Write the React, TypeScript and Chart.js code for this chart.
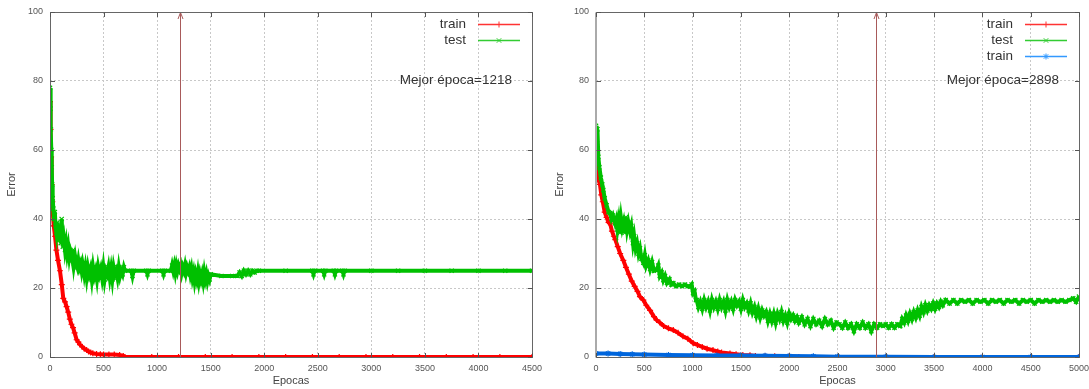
import React, { useEffect, useRef } from "react";
import { Chart, registerables } from "chart.js";

Chart.register(...registerables);

const FONT = "'Liberation Sans', Arial, sans-serif";

// ---------- shared tick labels ----------
const yTicks = [0, 20, 40, 60, 80, 100];
const leftXTicks = [0, 500, 1000, 1500, 2000, 2500, 3000, 3500, 4000, 4500];
const rightXTicks = [0, 500, 1000, 1500, 2000, 2500, 3000, 3500, 4000, 4500, 5000];

const xTitle = "Epocas";
const yTitle = "Error";
const bestLabelPrefix = "Mejor época=";

// ---------- left panel data: [epoch, error] ----------
const leftBestEpoch = 1218;

const leftTrain: [number, number][] = [
  [0, 74], [5, 66], [10, 58], [16, 50], [22, 45], [28, 41], [35, 38], [47, 35], [60, 31], [75, 28],
  [93, 25], [110, 21], [124, 17], [140, 16], [155, 14.6], [170, 13], [185, 11], [200, 9.5], [215, 8.5],
  [230, 7], [249, 5], [265, 4.3], [280, 3.6], [300, 3], [320, 2.4], [342, 2], [360, 1.6], [380, 1.3],
  [400, 1.1], [435, 0.9], [470, 0.8], [500, 0.7], [550, 0.75], [600, 0.7], [650, 0.6], [684, 0.3],
  [700, 0], [950, 0], [1200, 0], [1450, 0], [1700, 0], [1950, 0], [2200, 0], [2450, 0], [2700, 0],
  [2950, 0], [3200, 0], [3450, 0], [3700, 0], [3950, 0], [4200, 0], [4500, 0],
];

const leftTest: [number, number][] = [
  [0, 78], [4, 72], [8, 66], [12, 60], [16, 55], [20, 50], [25, 46], [31, 43], [38, 40], [45, 42],
  [52, 38], [60, 36], [68, 39], [76, 35], [85, 34], [93, 36], [100, 33], [109, 40], [120, 32], [130, 34],
  [140, 31], [150, 33], [160, 30], [170, 32], [180, 29], [190, 31], [200, 30], [210, 28], [217, 31], [225, 27],
  [235, 29], [245, 27], [255, 26], [265, 28], [275, 26], [285, 27], [295, 25], [305, 27], [311, 26], [320, 24],
  [330, 26], [342, 23], [354, 26], [366, 24], [378, 25.5], [390, 22.5], [402, 26], [414, 23.5], [426, 25],
  [438, 22.5], [450, 26], [462, 24], [474, 25.5], [486, 23], [498, 26], [510, 22.5], [522, 25], [534, 24],
  [546, 26], [558, 23], [570, 25.5], [582, 22.5], [594, 26], [606, 24], [618, 25], [630, 23], [642, 26],
  [654, 23.5], [666, 25], [678, 24], [690, 26], [700, 25],
  [760, 25], [770, 23.5], [780, 25], [900, 25], [910, 24], [920, 25], [1050, 25], [1060, 24], [1070, 25], [1130, 25],
  [1140, 26.5], [1150, 25], [1160, 26.5], [1170, 24.5], [1180, 26.5], [1190, 25], [1200, 26.5], [1210, 25.5],
  [1220, 26.5], [1230, 24.5], [1240, 26], [1250, 25], [1260, 26.5], [1270, 24.5], [1280, 26], [1290, 25], [1300, 26],
  [1310, 24], [1320, 25.5], [1330, 23], [1340, 24.5], [1350, 22],
  [1360, 24], [1370, 22.5], [1380, 24.5], [1390, 22], [1400, 24], [1410, 22.5], [1420, 24], [1430, 22],
  [1440, 24.5], [1450, 22.5], [1460, 24], [1470, 22], [1480, 23.5], [1490, 22.5], [1500, 24],
  [1600, 23.5], [1700, 23.5], [1750, 23.5],
  [1770, 24.5], [1790, 23.5], [1810, 25], [1830, 24], [1850, 25], [1870, 24], [1890, 25], [1910, 24.5], [1930, 25], [1950, 25],
  [2200, 25], [2450, 25], [2460, 24], [2470, 25], [2550, 25], [2560, 24], [2570, 25], [2650, 25], [2660, 24], [2670, 25],
  [2730, 25], [2740, 24], [2750, 25], [3000, 25], [3250, 25], [3500, 25], [3750, 25], [4000, 25], [4250, 25], [4500, 25],
];

// ---------- right panel data: [epoch, error] ----------
const rightBestEpoch = 2898;

const rightTrain: [number, number][] = [
  [0, 62.5], [5, 58], [10, 56], [20, 53], [30, 51], [41, 50], [55, 47], [70, 45], [90, 42], [110, 40.5],
  [130, 39], [145, 38.8], [165, 36.5], [185, 35], [200, 34], [225, 32], [250, 30], [283, 28], [310, 26],
  [340, 24], [370, 22], [400, 20.5], [430, 19], [455, 17.5], [490, 16.5], [520, 15], [560, 13.5], [600, 11.7],
  [628, 10.7], [660, 10], [700, 9], [750, 8.3], [800, 7.8], [850, 7], [900, 6], [950, 5.3], [1007, 4],
  [1050, 3.5], [1100, 2.9], [1150, 2.4], [1211, 2], [1260, 1.6], [1300, 1.3], [1387, 1], [1450, 0.8],
  [1520, 0.6], [1594, 0.5], [1650, 0.3], [1750, 0.2], [1850, 0.2], [2000, 0.2], [2100, 0],
  [2500, 0], [3000, 0], [3500, 0], [4000, 0], [4500, 0], [5000, 0],
];

const rightTest: [number, number][] = [
  [0, 67], [5, 65], [10, 62], [15, 66], [24, 58], [35, 55], [50, 52], [65, 50], [76, 48.4], [90, 46],
  [110, 44], [130, 42], [145, 41.7], [160, 40], [175, 41], [197, 38.8], [210, 40], [222, 37], [235, 39.5],
  [248, 36], [260, 40], [272, 37.5], [285, 39], [298, 36], [310, 40.5], [322, 37], [335, 39], [352, 36.5],
  [365, 38], [383, 33], [395, 35], [410, 31.5], [425, 33], [440, 30], [455, 31.5], [470, 28.5], [490, 27.3],
  [505, 29.5], [520, 26.5], [540, 28], [560, 25.5], [580, 27.5], [600, 25], [628, 25.3], [645, 26.5],
  [660, 23.5], [680, 24.5], [697, 22.3], [715, 23.5], [735, 21.5], [760, 22.5], [780, 21], [800, 21.4],
  [830, 20.5], [860, 21], [890, 20.5], [920, 21], [950, 20.5], [973, 20.4], [990, 21], [1005, 18.5],
  [1020, 19], [1035, 16.5], [1042, 16.5],
  [1060, 14.5], [1080, 16], [1100, 14], [1120, 16.5], [1140, 14.5], [1160, 16], [1180, 13.5], [1200, 16.5],
  [1220, 14.5], [1240, 16], [1260, 14], [1280, 16.5], [1300, 14.5], [1320, 16], [1340, 13.5], [1360, 16.5],
  [1380, 14.5], [1400, 16], [1420, 14], [1440, 16.5], [1460, 15], [1480, 16], [1500, 14], [1520, 16.5],
  [1540, 14.5], [1560, 15.5], [1580, 13.5], [1600, 15.5],
  [1620, 13], [1640, 14.5], [1660, 12], [1680, 14], [1700, 11.5], [1720, 13.5], [1740, 12],
  [1760, 13], [1780, 10.5], [1800, 12.5], [1820, 10.5], [1840, 12.5], [1860, 10], [1880, 12.5], [1900, 11],
  [1920, 13], [1940, 10.5], [1960, 12], [1980, 10], [2000, 12.5], [2020, 11], [2040, 12], [2060, 10.5],
  [2080, 11.5], [2100, 10],
  [2130, 11.5], [2160, 9.5], [2190, 11], [2220, 9], [2250, 11], [2280, 9.5], [2310, 10.5], [2340, 9],
  [2370, 11], [2400, 9.5], [2430, 10.5], [2460, 8.5], [2490, 10],
  [2520, 9.5], [2550, 8.5], [2580, 10], [2610, 8.5], [2640, 9.5], [2670, 7.5], [2700, 9.5], [2730, 8.5],
  [2760, 10], [2790, 8.5], [2820, 9.5], [2850, 7.5], [2880, 9.5], [2910, 8.5], [2940, 9.5], [2970, 9],
  [3000, 9.5], [3030, 8.5], [3060, 9.5], [3090, 8.5], [3120, 9.5], [3150, 9],
  [3170, 11], [3190, 10], [3210, 12], [3230, 10.5], [3250, 12.5], [3270, 11], [3290, 13], [3310, 11.5],
  [3330, 13.5], [3350, 12],
  [3370, 14.5], [3390, 13], [3410, 15], [3430, 13.5], [3450, 15], [3470, 14], [3490, 15.5], [3510, 14],
  [3530, 15.5], [3550, 14.5], [3570, 16], [3590, 15],
  [3620, 16.5], [3660, 15.5], [3700, 16.5], [3740, 15.5], [3780, 16.5], [3820, 16], [3860, 16.5], [3900, 15.5],
  [3940, 16.5], [3980, 16], [4020, 16.5], [4060, 15.5], [4100, 16.5], [4140, 16], [4180, 16.5], [4220, 15.5],
  [4260, 16.5], [4300, 16], [4340, 16.5], [4380, 15.5], [4420, 16.5], [4460, 16], [4500, 16.5], [4540, 15.5],
  [4580, 16.5], [4620, 16], [4660, 16.5], [4700, 16], [4740, 16.5], [4780, 16], [4820, 16.5], [4860, 16],
  [4900, 16.5], [4940, 17], [4970, 16], [5000, 17.5],
];

const rightTrainBlue: [number, number][] = [
  [0, 1.0], [125, 1.0], [250, 0.9], [375, 0.8], [500, 0.7], [750, 0.6], [1000, 0.5], [1250, 0.45],
  [1500, 0.4], [1750, 0.35], [2000, 0.3], [2250, 0.2], [2500, 0.1], [3000, 0.05], [3500, 0],
  [4000, 0], [4500, 0], [5000, 0],
];

// ---------- styles ----------
type Style = "cross" | "crossRot" | "star";
interface Series {
  label: string;
  data: [number, number][];
  color: string;
  legendColor: string;
  style: Style;
  order: number;
}
interface Panel {
  left: number;
  width: number;
  yAxisWidth: number;
  rightPad: number;
  xMax: number;
  xTicks: number[];
  best: number;
  yTitlePad: number;
  leftBorderWidth: number;
  leftBorderColor: string;
  series: Series[];
}

const RED = "#ff0000";
const GREEN = "#00c000";
const BLUE = "#0066dd";

const panels: Panel[] = [
  {
    left: 0, width: 560, yAxisWidth: 50, rightPad: 28, xMax: 4500, xTicks: leftXTicks, best: leftBestEpoch,
    yTitlePad: 5, leftBorderWidth: 1, leftBorderColor: "#666",
    series: [
      { label: "train", data: leftTrain, color: RED, legendColor: "#ff3333", style: "cross", order: 3 },
      { label: "test", data: leftTest, color: GREEN, legendColor: "#33cc33", style: "crossRot", order: 2 },
    ],
  },
  {
    left: 540, width: 549, yAxisWidth: 56, rightPad: 10, xMax: 5000, xTicks: rightXTicks, best: rightBestEpoch,
    yTitlePad: 13, leftBorderWidth: 2, leftBorderColor: "#aaa",
    series: [
      { label: "train", data: rightTrain, color: RED, legendColor: "#ff3333", style: "cross", order: 3 },
      { label: "test", data: rightTest, color: GREEN, legendColor: "#33cc33", style: "crossRot", order: 2 },
      { label: "train", data: rightTrainBlue, color: BLUE, legendColor: "#3399ff", style: "star", order: 1 },
    ],
  },
];

function drawMarker(ctx: CanvasRenderingContext2D, style: Style, x: number, y: number, r: number) {
  ctx.beginPath();
  if (style === "cross" || style === "star") {
    ctx.moveTo(x - r, y); ctx.lineTo(x + r, y);
    ctx.moveTo(x, y - r); ctx.lineTo(x, y + r);
  }
  if (style === "crossRot" || style === "star") {
    const d = r * 0.75;
    ctx.moveTo(x - d, y - d); ctx.lineTo(x + d, y + d);
    ctx.moveTo(x - d, y + d); ctx.lineTo(x + d, y - d);
  }
  ctx.stroke();
}

const decorPlugin = {
  id: "gnuplotDecor",
  afterDatasetsDraw(chart: any, _args: any, opts: any) {
    const panel: Panel = opts.panel;
    const { ctx, chartArea } = chart;
    const { left, right, top, bottom } = chartArea;
    const xs = chart.scales.x;
    const ys = chart.scales.y;
    const al = (v: number) => Math.round(v) + 0.5;
    ctx.save();

    // best epoch arrow
    const ax = al(xs.getPixelForValue(panel.best));
    const y0 = ys.getPixelForValue(0);
    const y1 = ys.getPixelForValue(100);
    ctx.strokeStyle = "#a85a5a";
    ctx.lineWidth = 1;
    ctx.beginPath();
    ctx.moveTo(ax, y0);
    ctx.lineTo(ax, y1);
    ctx.stroke();
    ctx.beginPath();
    ctx.moveTo(ax - 2.5, y1 + 7);
    ctx.lineTo(ax, y1 + 0.5);
    ctx.lineTo(ax + 2.5, y1 + 7);
    ctx.stroke();

    // frame
    ctx.strokeStyle = "#666";
    ctx.lineWidth = 1;
    ctx.beginPath();
    ctx.moveTo(al(left), al(top));
    ctx.lineTo(al(right), al(top));
    ctx.lineTo(al(right), al(bottom));
    ctx.lineTo(al(left), al(bottom));
    ctx.stroke();
    ctx.strokeStyle = panel.leftBorderColor;
    ctx.lineWidth = panel.leftBorderWidth;
    ctx.beginPath();
    const lx = panel.leftBorderWidth === 2 ? Math.round(left) : al(left);
    ctx.moveTo(lx, al(top));
    ctx.lineTo(lx, al(bottom));
    ctx.stroke();

    // inward tick marks on all four sides
    ctx.strokeStyle = "#555";
    ctx.lineWidth = 1;
    ctx.beginPath();
    const tl = 4.5;
    panel.xTicks.forEach((v) => {
      const px = al(xs.getPixelForValue(v));
      ctx.moveTo(px, al(bottom)); ctx.lineTo(px, al(bottom) - tl);
      ctx.moveTo(px, al(top)); ctx.lineTo(px, al(top) + tl);
    });
    yTicks.forEach((v) => {
      const py = al(ys.getPixelForValue(v));
      ctx.moveTo(al(left), py); ctx.lineTo(al(left) + tl, py);
      ctx.moveTo(al(right), py); ctx.lineTo(al(right) - tl, py);
    });
    ctx.stroke();

    // key
    ctx.font = `13.5px ${FONT}`;
    ctx.textAlign = "right";
    ctx.textBaseline = "middle";
    panel.series.forEach((s, i) => {
      const yy = Math.round(top + 12 + i * 16) + 0.5;
      ctx.fillStyle = "#333";
      ctx.fillText(s.label, right - 66, yy);
      ctx.strokeStyle = s.legendColor;
      ctx.lineWidth = 1.5;
      ctx.beginPath();
      ctx.moveTo(right - 54, yy);
      ctx.lineTo(right - 12, yy);
      ctx.stroke();
      ctx.lineWidth = 1;
      drawMarker(ctx, s.style, right - 33, yy, 3);
    });
    ctx.fillStyle = "#333";
    ctx.fillText(bestLabelPrefix + panel.best, right - 20, top + 68);

    ctx.restore();
  },
};

function GnuplotPanel({ panel }: { panel: Panel }) {
  const ref = useRef<HTMLCanvasElement>(null);
  useEffect(() => {
    const canvas = ref.current;
    if (!canvas) return;
    const fixTicks = (values: number[]) => (scale: any) => {
      scale.ticks = values.map((value) => ({ value }));
    };
    const zeroPad = (scale: any) => {
      scale.paddingTop = 0;
      scale.paddingBottom = 0;
      scale.paddingLeft = 0;
      scale.paddingRight = 0;
    };
    const chart = new Chart(canvas, {
      type: "line",
      data: {
        datasets: panel.series.map((s) => ({
          label: s.label,
          data: s.data.map(([x, y]) => ({ x, y })),
          borderColor: s.color,
          backgroundColor: s.color,
          borderWidth: 4,
          pointStyle: s.style,
          pointRadius: 3,
          pointBorderWidth: 1.2,
          pointHoverRadius: 0,
          tension: 0,
          fill: false,
          order: s.order,
        })),
      },
      options: {
        animation: false,
        responsive: false,
        maintainAspectRatio: false,
        events: [],
        layout: { padding: { left: 0, right: panel.rightPad, top: 12, bottom: 0 } },
        plugins: {
          legend: { display: false },
          tooltip: { enabled: false },
          gnuplotDecor: { panel },
        } as any,
        scales: {
          x: {
            type: "linear",
            min: 0,
            max: panel.xMax,
            afterBuildTicks: fixTicks(panel.xTicks),
            afterFit: (scale: any) => {
              scale.height = 32;
              zeroPad(scale);
            },
            ticks: {
              color: "#555",
              font: { family: FONT, size: 9 },
              padding: 6,
              maxRotation: 0,
              autoSkip: false,
              callback: (v: any) => String(v),
            },
            grid: { color: "#c8c8c8", lineWidth: 1, drawTicks: false },
            border: { display: false, dash: [2, 2] },
            title: {
              display: true,
              text: xTitle,
              color: "#444",
              font: { family: FONT, size: 11 },
              padding: { top: 0, bottom: 1.5 },
            },
          },
          y: {
            type: "linear",
            min: 0,
            max: 100,
            afterBuildTicks: fixTicks(yTicks),
            afterFit: (scale: any) => {
              scale.width = panel.yAxisWidth;
              zeroPad(scale);
            },
            ticks: {
              color: "#555",
              font: { family: FONT, size: 9 },
              padding: 7,
              autoSkip: false,
              callback: (v: any) => String(v),
            },
            grid: { color: "#c8c8c8", lineWidth: 1, drawTicks: false },
            border: { display: false, dash: [2, 2] },
            title: {
              display: true,
              text: yTitle,
              color: "#444",
              font: { family: FONT, size: 11 },
              padding: { top: panel.yTitlePad, bottom: 0 },
            },
          },
        },
      },
      plugins: [decorPlugin],
    } as any);
    return () => chart.destroy();
  }, [panel]);

  return (
    <div style={{ position: "absolute", left: panel.left, top: 0, width: panel.width, height: 389 }}>
      <canvas ref={ref} width={panel.width} height={389} style={{ display: "block" }} />
    </div>
  );
}

export default function App() {
  return (
    <div style={{ position: "absolute", left: 0, top: 0, width: 1089, height: 389, background: "#fff" }}>
      {panels.map((p, i) => (
        <GnuplotPanel key={i} panel={p} />
      ))}
    </div>
  );
}
